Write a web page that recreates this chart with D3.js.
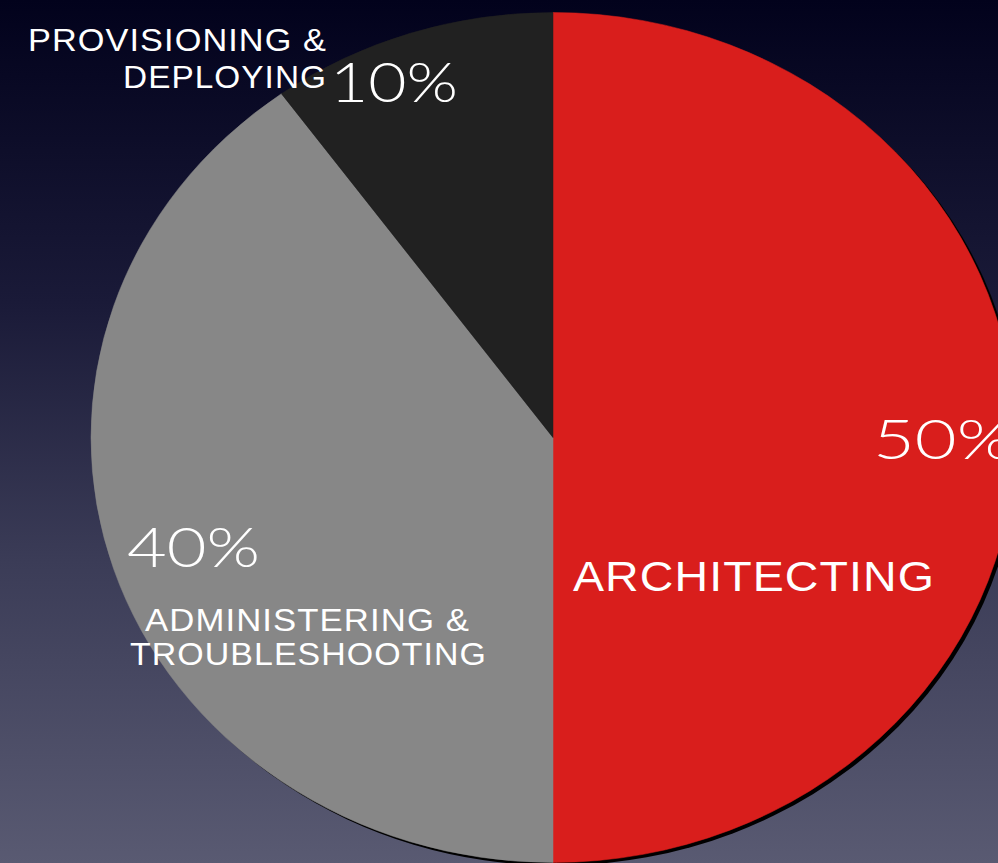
<!DOCTYPE html>
<html><head><meta charset="utf-8">
<script src="https://cdn.jsdelivr.net/npm/d3@7"></script>
<style>html,body{margin:0;padding:0;overflow:hidden;background:#000;}</style>
</head><body>
<svg id="chart" width="998" height="863"></svg>
<script>
// Data
const categories = ["ARCHITECTING", "ADMINISTERING & TROUBLESHOOTING", "PROVISIONING & DEPLOYING"];
const values = [50, 40, 10];
const valueLabels = ["50%", "40%", "10%"];
const nameLines = [["ARCHITECTING"], ["ADMINISTERING &", "TROUBLESHOOTING"], ["PROVISIONING &", "DEPLOYING"]];
const colors = ["#d91e1c", "#878787", "#212121"];

// Layout
const W = 998, H = 863;
const cx = 553, cy = 437.5, ry = 425, rx = 462;
const svg = d3.select("#chart");
const defs = svg.append("defs");
const grad = defs.append("linearGradient").attr("id","bg").attr("x1",0).attr("y1",0).attr("x2",0).attr("y2",1);
[[0,"#02021c"],[0.35,"#1a1a38"],[0.65,"#3b3c57"],[1,"#595a72"]].forEach(([o,c]) =>
  grad.append("stop").attr("offset",o).attr("stop-color",c));
svg.append("rect").attr("width",W).attr("height",H).attr("fill","url(#bg)");

const pie = d3.pie().sort(null).value(d => d)(values);
const arc = d3.arc().innerRadius(0).outerRadius(ry);

// shadow
svg.append("g").attr("transform",`translate(${cx+3.5},${cy+3}) scale(${rx/ry},1)`)
  .selectAll("path").data(pie).join("path").attr("d", arc).attr("fill","#000");
svg.append("g").attr("transform",`translate(${cx},${cy}) scale(${rx/ry},1)`)
  .selectAll("path").data(pie).join("path").attr("d", arc)
  .attr("fill",(d,i)=>colors[i]).attr("stroke",(d,i)=>colors[i]).attr("stroke-width",0.5);

// label layout (positions, not data)
const pctLayout = [
  {x:873, y:459, w:140},
  {x:127, y:567, w:133},
  {x:330, y:102, w:128}
];
const nameLayout = [
  [{x:573, y:591, w:362}],
  [{x:145, y:631, w:325}, {x:130, y:665, w:357}],
  [{x:28, y:51, w:299}, {x:123, y:88, w:204}]
];
const nameSize = [42, 32, 32];

const tg = svg.append("g").attr("fill","#fff");
valueLabels.forEach((t,i) => {
  const L = pctLayout[i];
  tg.append("text").attr("x",L.x).attr("y",L.y)
    .attr("font-family","Lato, 'Liberation Sans', sans-serif").attr("font-weight",300)
    .attr("font-size",55).attr("textLength",L.w).attr("lengthAdjust","spacingAndGlyphs").text(t);
});
nameLines.forEach((lines,i) => {
  lines.forEach((t,j) => {
    const L = nameLayout[i][j];
    tg.append("text").attr("x",L.x).attr("y",L.y)
      .attr("font-family","'Liberation Sans', Arial, sans-serif")
      .attr("font-size",nameSize[i]).attr("letter-spacing",1)
      .attr("textLength",L.w).attr("lengthAdjust","spacingAndGlyphs").text(t);
  });
});
</script>
</body></html>
